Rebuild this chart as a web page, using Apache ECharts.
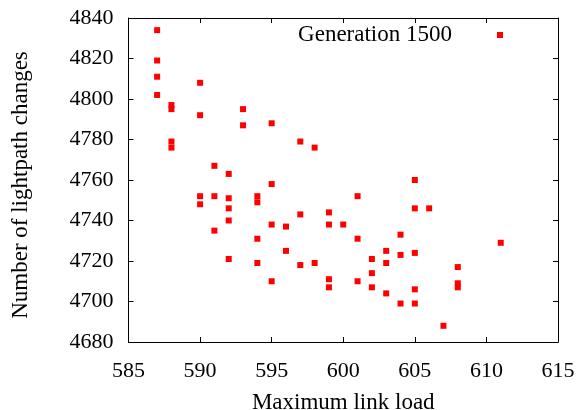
<!DOCTYPE html>
<html>
<head>
<meta charset="utf-8">
<script src="https://cdn.jsdelivr.net/npm/echarts@6/dist/echarts.min.js"></script>
<style>
html,body{margin:0;padding:0;background:#fff;}
#chart{width:579px;height:410px;}
</style>
</head>
<body>
<div id="chart"></div>
<script>
// Maximum link load (x) and number of lightpath changes (y)
var linkLoad = [
  587, 587, 587, 587,
  588, 588, 588, 588,
  590, 590, 590, 590,
  591, 591, 591,
  592, 592, 592, 592, 592,
  593, 593,
  594, 594, 594, 594,
  595, 595, 595, 595,
  596, 596,
  597, 597, 597,
  598, 598,
  599, 599, 599, 599,
  600,
  601, 601, 601,
  602, 602, 602,
  603, 603, 603,
  604, 604, 604,
  605, 605, 605, 605, 605,
  606,
  607,
  608, 608, 608,
  611
];
var lightpathChanges = [
  4834, 4819, 4811, 4802,
  4797, 4795, 4779, 4776,
  4808, 4792, 4752, 4748,
  4767, 4752, 4735,
  4763, 4751, 4746, 4740, 4721,
  4795, 4787,
  4752, 4749, 4731, 4719,
  4788, 4758, 4738, 4710,
  4737, 4725,
  4779, 4743, 4718,
  4776, 4719,
  4744, 4738, 4711, 4707,
  4738,
  4752, 4731, 4710,
  4721, 4714, 4707,
  4725, 4719, 4704,
  4733, 4723, 4699,
  4760, 4746, 4724, 4706, 4699,
  4746,
  4688,
  4717, 4709, 4707,
  4729
];
var seriesName = 'Generation 1500';
var xTitle = 'Maximum link load';
var yTitle = 'Number of lightpath changes';
var xMin = 585, xMax = 615, xStep = 5;
var yMin = 4680, yMax = 4840, yStep = 20;

var points = linkLoad.map(function (x, i) { return [x, lightpathChanges[i]]; });

var FONT = 'Liberation Serif';
var chart = echarts.init(document.getElementById('chart'), null, {renderer: 'canvas'});

function axisCommon(extra) {
  var base = {
    axisLine: {show: true, onZero: false, lineStyle: {color: '#000', width: 1}},
    axisTick: {show: true, inside: true, length: 5, lineStyle: {color: '#000', width: 1}},
    splitLine: {show: false}
  };
  for (var k in extra) base[k] = extra[k];
  return base;
}

var option = {
  animation: false,
  backgroundColor: '#fff',
  grid: {left: 128.5, right: 21, top: 18, bottom: 68, containLabel: false, outerBoundsMode: 'none'},
  legend: {
    show: true,
    right: 76,
    top: 23.5,
    padding: 0,
    align: 'right',
    icon: 'rect',
    itemWidth: 6,
    itemHeight: 6,
    data: [seriesName],
    itemStyle: {color: '#ff0000', opacity: 1},
    textStyle: {fontFamily: FONT, fontSize: 23, color: '#000', padding: [0, 40, 0, 0]}
  },
  xAxis: [
    axisCommon({
      type: 'value', position: 'bottom', min: xMin, max: xMax, interval: xStep,
      name: xTitle, nameLocation: 'middle', nameGap: 49,
      nameTextStyle: {fontFamily: FONT, fontSize: 23, color: '#000'},
      axisLabel: {show: true, margin: 18, fontFamily: FONT, fontSize: 22, color: '#000',
        formatter: function (v) { return String(v); }}
    }),
    axisCommon({
      type: 'value', position: 'top', min: xMin, max: xMax, interval: xStep,
      axisLabel: {show: false}
    })
  ],
  yAxis: [
    axisCommon({
      type: 'value', position: 'left', min: yMin, max: yMax, interval: yStep,
      name: yTitle, nameLocation: 'middle', nameGap: 96,
      nameTextStyle: {fontFamily: FONT, fontSize: 23, color: '#000', padding: [0, 10, 0, 0]},
      axisLabel: {show: true, margin: 15, fontFamily: FONT, fontSize: 22, color: '#000',
        formatter: function (v) { return String(v); }}
    }),
    axisCommon({
      type: 'value', position: 'right', min: yMin, max: yMax, interval: yStep,
      axisLabel: {show: false}
    })
  ],
  series: [{
    name: seriesName,
    type: 'scatter',
    xAxisIndex: 0,
    yAxisIndex: 0,
    symbol: 'rect',
    symbolSize: 6,
    itemStyle: {color: '#ff0000', opacity: 1},
    data: points
  }]
};
chart.setOption(option);
</script>
</body>
</html>
